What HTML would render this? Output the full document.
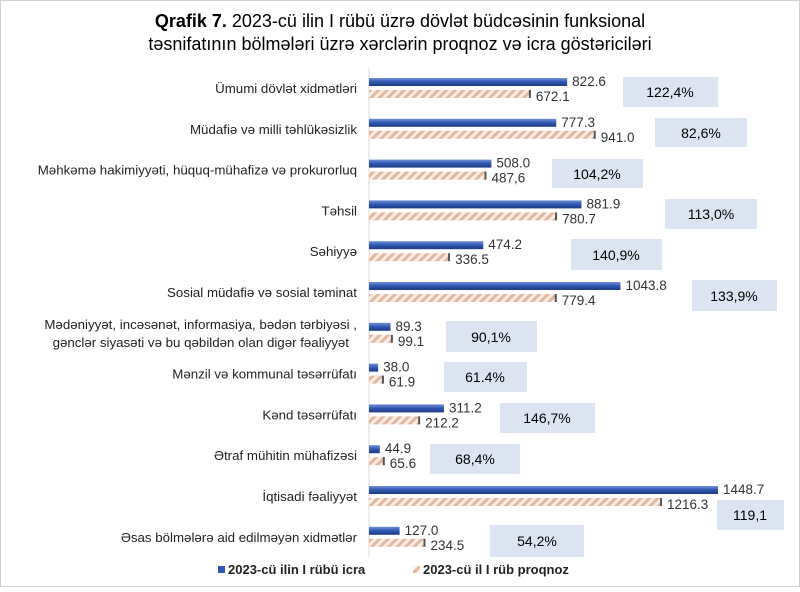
<!DOCTYPE html>
<html><head><meta charset="utf-8"><style>
body{margin:0;background:#fff;}
svg text{font-family:"Liberation Sans",Arial,sans-serif;}
</style></head><body>
<svg width="800" height="587" viewBox="0 0 800 587" xmlns="http://www.w3.org/2000/svg">
<defs>
<linearGradient id="bl" x1="0" y1="0" x2="0" y2="1">
<stop offset="0" stop-color="#6f8fd8"/><stop offset="0.5" stop-color="#2f56b0"/><stop offset="1" stop-color="#1c3a80"/></linearGradient>
<pattern id="ht" width="6" height="6" patternUnits="userSpaceOnUse" patternTransform="rotate(45)">
<rect width="6" height="6" fill="#fbeee6"/><rect width="3" height="6" fill="#e2b79c"/></pattern>
</defs>
<rect x="0.5" y="0.5" width="799" height="586" fill="#fff" stroke="#d0d0d0"/>
<text x="400" y="27" text-anchor="middle" font-size="18" fill="#000"><tspan font-weight="bold">Qrafik 7.</tspan> 2023-cü ilin I rübü üzrə dövlət büdcəsinin  funksional</text>
<text x="400" y="50" text-anchor="middle" font-size="18" fill="#000">təsnifatının bölmələri üzrə  xərclərin proqnoz və icra göstəriciləri</text>
<line x1="369" y1="68" x2="369" y2="557" stroke="#d9d9d9"/>
<g font-size="13" fill="#333">
<rect x="623" y="77" width="95" height="30" fill="#dce4f1"/><text x="670" y="97" text-anchor="middle" font-size="14" fill="#000">122,4%</text>
<rect x="655" y="118" width="92" height="29" fill="#dce4f1"/><text x="701" y="138" text-anchor="middle" font-size="14" fill="#000">82,6%</text>
<rect x="552" y="159" width="91" height="29" fill="#dce4f1"/><text x="597" y="179" text-anchor="middle" font-size="14" fill="#000">104,2%</text>
<rect x="665" y="199" width="92" height="30" fill="#dce4f1"/><text x="711" y="219" text-anchor="middle" font-size="14" fill="#000">113,0%</text>
<rect x="571" y="239" width="91" height="31" fill="#dce4f1"/><text x="616" y="260" text-anchor="middle" font-size="14" fill="#000">140,9%</text>
<rect x="692" y="280" width="85" height="31" fill="#dce4f1"/><text x="734" y="301" text-anchor="middle" font-size="14" fill="#000">133,9%</text>
<rect x="446" y="321" width="91" height="31" fill="#dce4f1"/><text x="491" y="342" text-anchor="middle" font-size="14" fill="#000">90,1%</text>
<rect x="444" y="362" width="83" height="30" fill="#dce4f1"/><text x="485" y="382" text-anchor="middle" font-size="14" fill="#000">61.4%</text>
<rect x="500" y="403" width="95" height="30" fill="#dce4f1"/><text x="547" y="423" text-anchor="middle" font-size="14" fill="#000">146,7%</text>
<rect x="430" y="444" width="90" height="30" fill="#dce4f1"/><text x="475" y="464" text-anchor="middle" font-size="14" fill="#000">68,4%</text>
<rect x="717" y="500" width="67" height="30" fill="#dce4f1"/><text x="750" y="520" text-anchor="middle" font-size="14" fill="#000">119,1</text>
<rect x="490" y="525" width="94" height="32" fill="#dce4f1"/><text x="537" y="546" text-anchor="middle" font-size="14" fill="#000">54,2%</text>
</g>
<g id="bars" font-size="13.5" fill="#333"></g>
<g font-size="13.3" fill="#222" text-anchor="end" id="labels"></g>
<rect x="218" y="566" width="7" height="7" fill="#2f56b0"/>
<text x="228" y="574" font-size="13" font-weight="bold" fill="#222">2023-cü ilin I rübü icra</text>
<rect x="413" y="566" width="7" height="7" fill="url(#ht)"/>
<text x="423" y="574" font-size="13" font-weight="bold" fill="#222">2023-cü il I rüb proqnoz</text>
<script>
var d=[["Ümumi dövlət xidmətləri",822.6,672.1,"822.6","672.1"],["Müdafiə və milli təhlükəsizlik",777.3,941.0,"777.3","941.0"],["Məhkəmə hakimiyyəti, hüquq-mühafizə və prokurorluq",508.0,487.6,"508.0","487,6"],["Təhsil",881.9,780.7,"881.9","780.7"],["Səhiyyə",474.2,336.5,"474.2","336.5"],["Sosial müdafiə və sosial təminat",1043.8,779.4,"1043.8","779.4"],["Mədəniyyət, incəsənət, informasiya, bədən tərbiyəsi ,|gənclər siyasəti və bu qəbildən olan digər fəaliyyət",89.3,99.1,"89.3","99.1"],["Mənzil və kommunal təsərrüfatı",38.0,61.9,"38.0","61.9"],["Kənd təsərrüfatı",311.2,212.2,"311.2","212.2"],["Ətraf mühitin mühafizəsi",44.9,65.6,"44.9","65.6"],["İqtisadi fəaliyyət",1448.7,1216.3,"1448.7","1216.3"],["Əsas bölmələrə aid edilməyən xidmətlər",127.0,234.5,"127.0","234.5"]];
var ns="http://www.w3.org/2000/svg",B=document.getElementById("bars"),L=document.getElementById("labels"),k=349/1448.7;
function el(p,t,a,tx){var e=document.createElementNS(ns,t);for(var i in a)e.setAttribute(i,a[i]);if(tx)e.textContent=tx;p.appendChild(e);return e;}
d.forEach(function(r,i){var c=88+40.8*i,w1=r[1]*k,w2=r[2]*k;
el(B,"rect",{x:369,y:c-10,width:w1,height:8,fill:"url(#bl)"});
el(B,"rect",{x:369,y:c+2,width:w2,height:8,fill:"url(#ht)"});
el(B,"rect",{x:369+w2-2,y:c+2,width:2,height:8,fill:"#555"});
el(B,"text",{x:374+w1,y:c-2},r[3]);el(B,"text",{x:374+w2,y:c+13},r[4]);
var p=r[0].split("|");
if(p.length==1)el(L,"text",{x:357,y:c+5},p[0]);else{el(L,"text",{x:357,y:c-4},p[0]);el(L,"text",{x:349,y:c+14},p[1]);}
});
</script>
</svg>
</body></html>
